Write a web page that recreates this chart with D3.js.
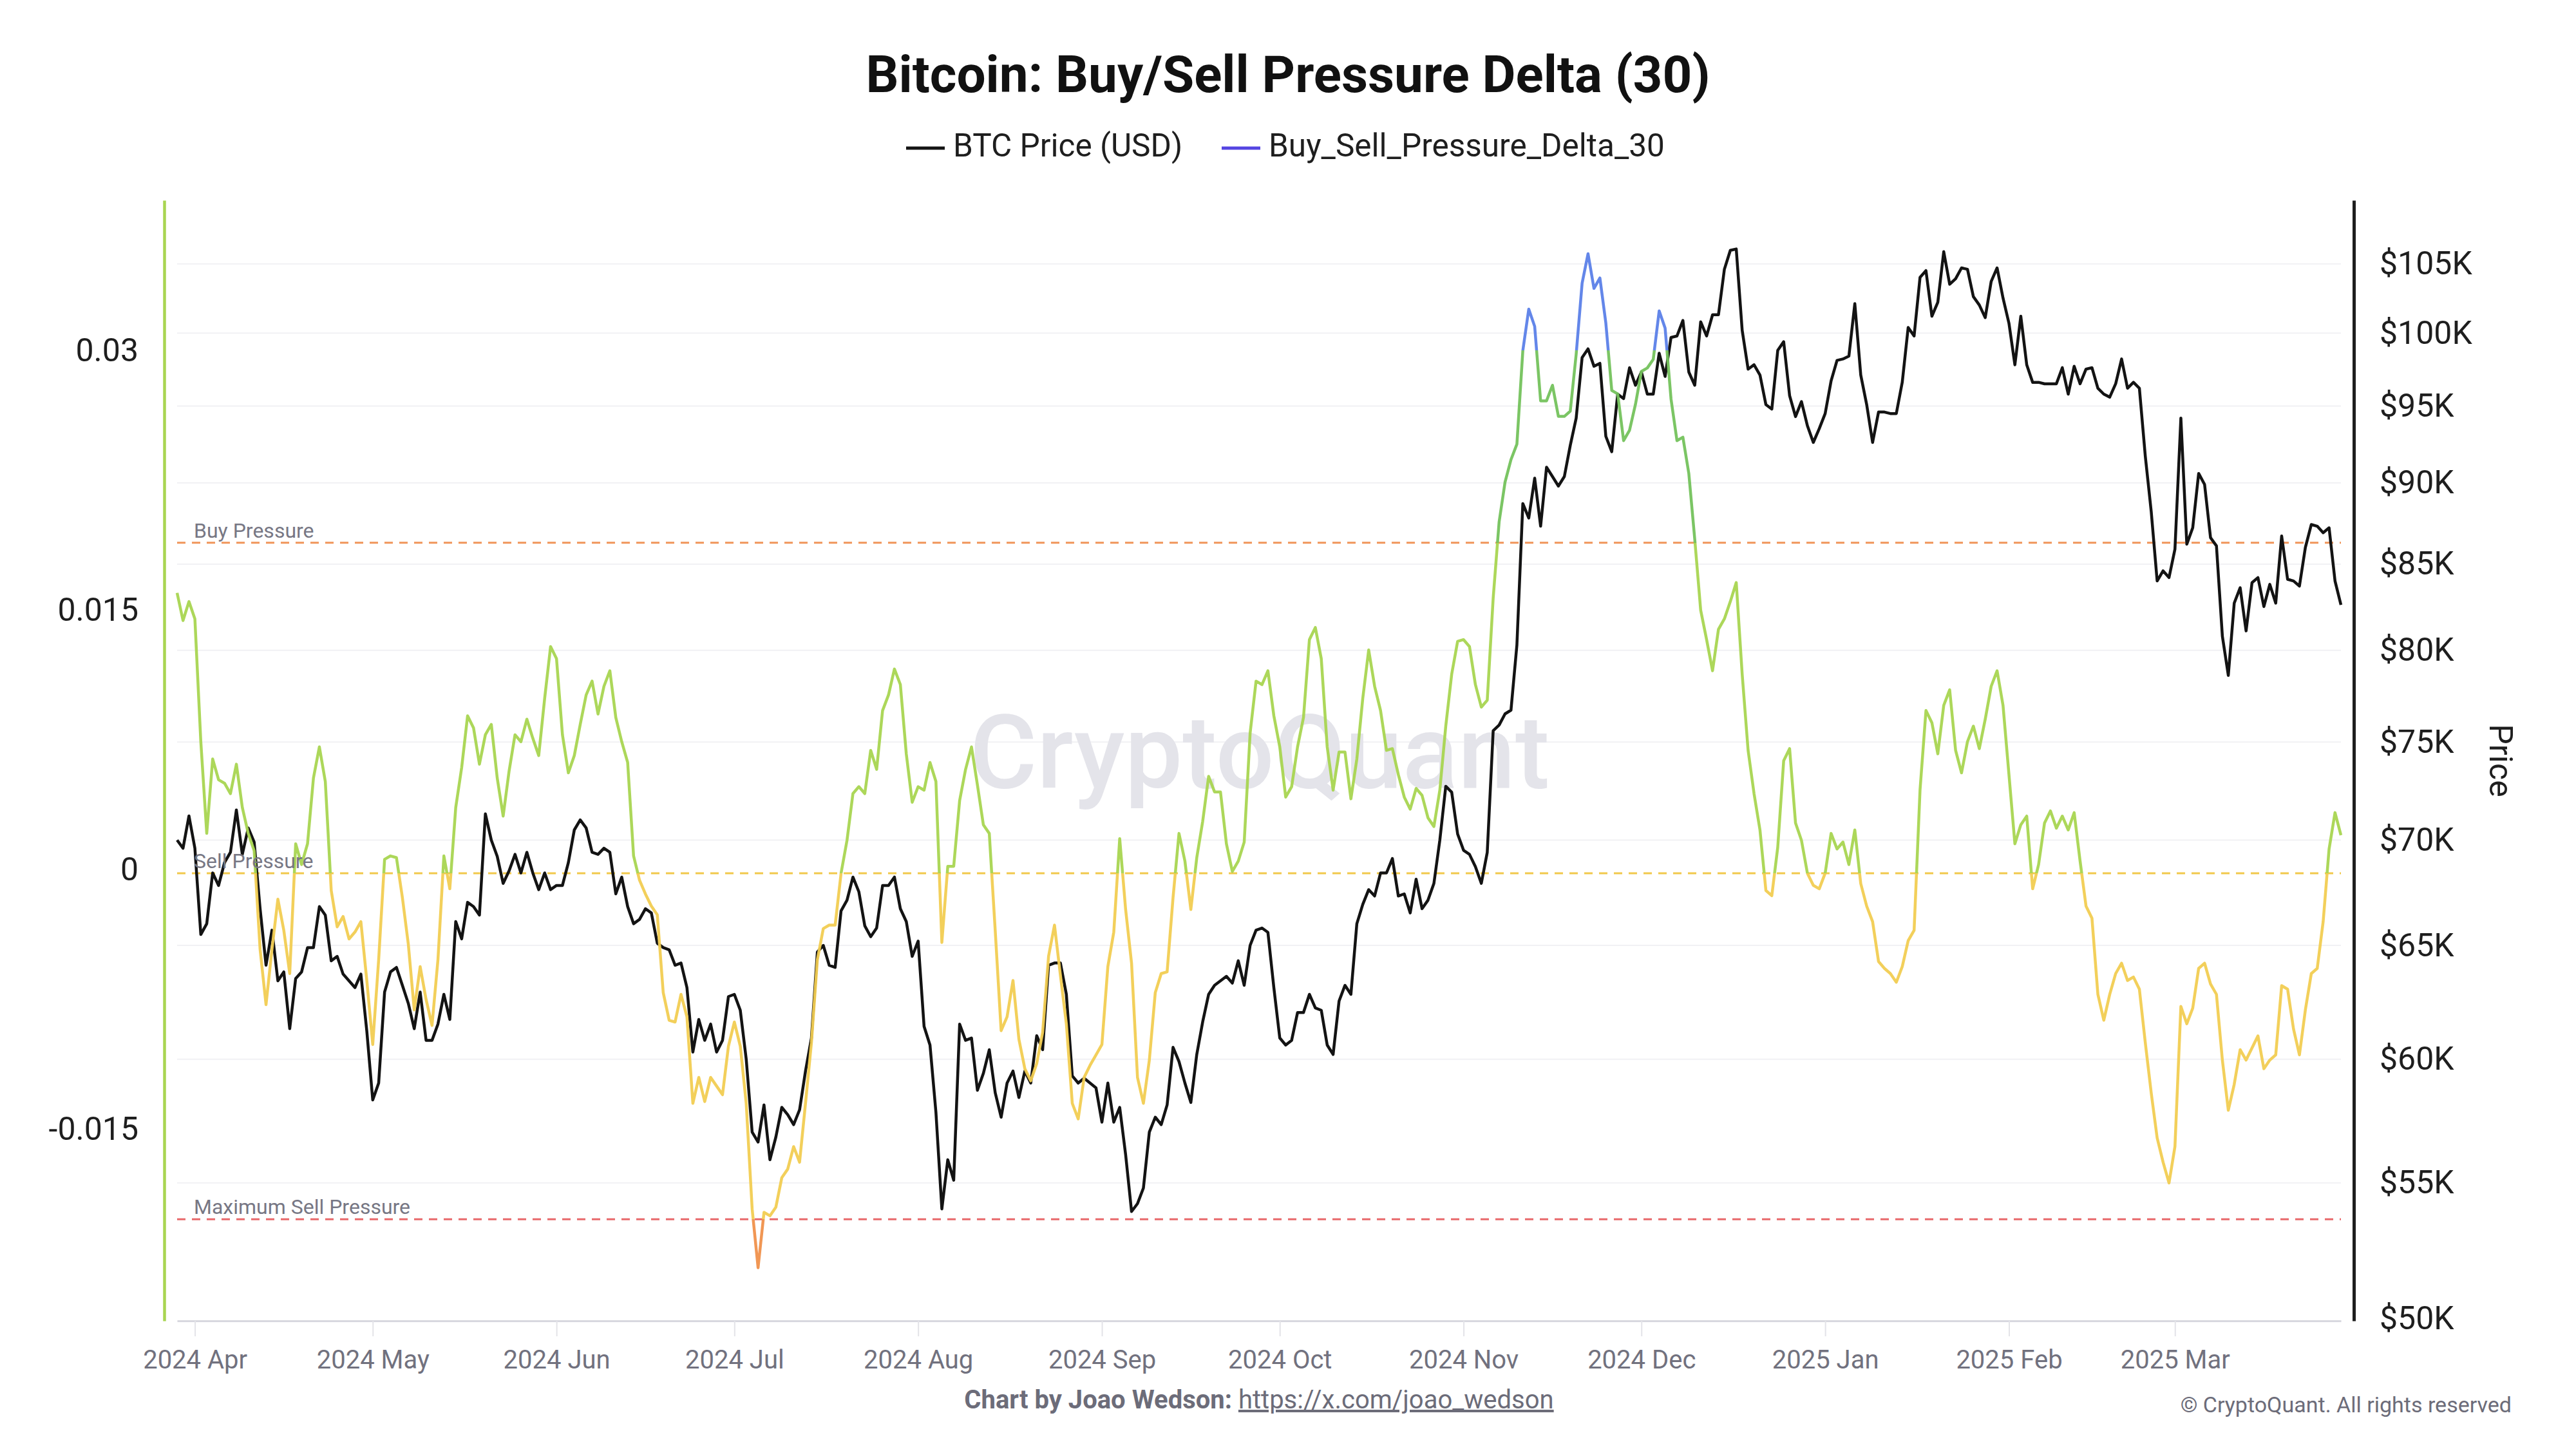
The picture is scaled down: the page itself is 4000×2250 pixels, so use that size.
<!DOCTYPE html>
<html>
<head>
<meta charset="utf-8">
<title>Bitcoin: Buy/Sell Pressure Delta (30)</title>
<script src="https://cdn.jsdelivr.net/npm/d3@7"></script>
<style>
  html, body { margin: 0; padding: 0; background: #fff; }
  svg { display: block; font-family: Roboto, 'Noto Sans', sans-serif; }
</style>
</head>
<body>
<div id="chart"></div>
<script>
// ------------------------------------------------------------------
// Data (daily, first value is 2024-03-29)
const startDate = '2024-03-29';

// BTC price, thousand USD
const btcPriceK = [
  70.0, 69.6, 71.2, 69.6, 65.5, 66.0, 68.4, 67.8, 68.9, 69.4,
  71.5, 69.3, 70.6, 69.9, 66.7, 64.1, 65.7, 63.4, 63.8, 61.3,
  63.5, 63.8, 64.9, 64.9, 66.8, 66.4, 64.3, 64.5, 63.7, 63.4,
  63.1, 63.7, 61.2, 58.3, 59.0, 62.9, 63.8, 64.0, 63.2, 62.4,
  61.3, 62.9, 60.8, 60.8, 61.5, 62.8, 61.7, 66.1, 65.3, 67.0,
  66.8, 66.4, 71.3, 70.0, 69.2, 67.9, 68.5, 69.3, 68.4, 69.4,
  68.4, 67.6, 68.4, 67.6, 67.8, 67.8, 68.9, 70.5, 71.0, 70.6,
  69.4, 69.3, 69.6, 69.4, 67.4, 68.2, 66.8, 66.0, 66.2, 66.7,
  66.5, 65.1, 64.9, 64.8, 64.1, 64.2, 63.1, 60.3, 61.7, 60.8,
  61.5, 60.3, 60.8, 62.7, 62.8, 62.1, 60.0, 57.0, 56.6, 58.1,
  55.9, 56.8, 58.0, 57.7, 57.3, 57.9, 59.5, 60.9, 64.7, 65.0,
  64.1, 64.0, 66.6, 67.1, 68.2, 67.5, 65.9, 65.4, 65.8, 67.8,
  67.8, 68.2, 66.7, 66.1, 64.5, 65.2, 61.4, 60.6, 57.8, 54.0,
  55.9, 55.1, 61.5, 60.8, 60.9, 58.7, 59.4, 60.4, 58.6, 57.6,
  59.0, 59.5, 58.4, 59.5, 59.0, 61.0, 60.4, 64.1, 64.2, 64.2,
  62.8, 59.3, 59.0, 59.2, 59.0, 58.8, 57.4, 59.0, 57.4, 58.0,
  56.1, 53.9, 54.2, 54.8, 57.0, 57.6, 57.3, 58.1, 60.5, 59.9,
  59.0, 58.2, 60.2, 61.6, 62.8, 63.2, 63.4, 63.6, 63.3, 64.3,
  63.2, 65.0, 65.7, 65.8, 65.6, 63.1, 60.9, 60.6, 60.8, 62.0,
  62.0, 62.8, 62.2, 62.1, 60.6, 60.2, 62.5, 63.2, 62.8, 66.0,
  66.9, 67.6, 67.3, 68.4, 68.4, 69.1, 67.3, 67.4, 66.5, 68.1,
  66.7, 67.1, 67.9, 70.0, 72.7, 72.4, 70.3, 69.5, 69.3, 68.7,
  67.9, 69.4, 75.6, 75.9, 76.5, 76.7, 80.3, 88.7, 87.8, 90.3,
  87.3, 91.0, 90.4, 89.8, 90.4, 92.4, 94.2, 98.3, 98.9, 97.7,
  97.9, 93.0, 92.0, 95.8, 95.5, 97.6, 96.4, 97.3, 95.8, 95.8,
  98.6, 97.0, 99.7, 99.8, 100.9, 97.3, 96.4, 100.8, 99.8, 101.3,
  101.3, 104.6, 106.0, 106.1, 100.2, 97.5, 97.8, 97.1, 95.1, 94.8,
  98.8, 99.4, 95.7, 94.3, 95.3, 93.7, 92.6, 93.5, 94.5, 96.7,
  98.1, 98.2, 98.4, 102.1, 97.1, 95.1, 92.6, 94.6, 94.6, 94.5,
  94.5, 96.6, 100.4, 99.8, 104.0, 104.5, 101.2, 102.2, 105.9, 103.5,
  103.9, 104.7, 104.6, 102.6, 102.0, 101.1, 103.7, 104.7, 102.5, 100.7,
  97.8, 101.2, 97.8, 96.6, 96.6, 96.5, 96.5, 96.5, 97.6, 95.8,
  97.7, 96.5, 97.5, 97.6, 96.2, 95.8, 95.6, 96.5, 98.2, 96.2,
  96.6, 96.2, 91.7, 88.2, 84.0, 84.6, 84.2, 85.9, 94.2, 86.2,
  87.2, 90.6, 89.9, 86.6, 86.1, 80.8, 78.6, 82.7, 83.6, 81.1,
  83.9, 84.2, 82.5, 83.8, 82.7, 86.7, 84.1, 84.0, 83.7, 86.0,
  87.4, 87.3, 86.9, 87.2, 84.0, 82.6,
];

// Buy_Sell_Pressure_Delta_30
const pressureDelta = [
  0.0160, 0.0144, 0.0155, 0.0145, 0.0074, 0.0021, 0.0064, 0.0052, 0.0050, 0.0044,
  0.0061, 0.0036, 0.0021, 0.0011, -0.0046, -0.0078, -0.0046, -0.0017, -0.0035, -0.0060,
  0.0015, 0.0003, 0.0015, 0.0053, 0.0071, 0.0051, -0.0012, -0.0033, -0.0027, -0.0040,
  -0.0036, -0.0030, -0.0064, -0.0101, -0.0052, 0.0006, 0.0008, 0.0007, -0.0016, -0.0043,
  -0.0081, -0.0056, -0.0075, -0.0090, -0.0052, 0.0008, -0.0011, 0.0036, 0.0059, 0.0089,
  0.0082, 0.0061, 0.0078, 0.0084, 0.0053, 0.0031, 0.0057, 0.0078, 0.0074, 0.0087,
  0.0076, 0.0066, 0.0099, 0.0129, 0.0122, 0.0078, 0.0056, 0.0066, 0.0084, 0.0101,
  0.0109, 0.0090, 0.0106, 0.0115, 0.0088, 0.0074, 0.0062, 0.0008, -0.0006, -0.0014,
  -0.0021, -0.0026, -0.0071, -0.0087, -0.0088, -0.0072, -0.0085, -0.0135, -0.0120, -0.0134,
  -0.0120, -0.0125, -0.0130, -0.0102, -0.0088, -0.0102, -0.0135, -0.0196, -0.0230, -0.0198,
  -0.0200, -0.0195, -0.0178, -0.0173, -0.0160, -0.0169, -0.0135, -0.0100, -0.0052, -0.0034,
  -0.0032, -0.0032, -0.0002, 0.0017, 0.0044, 0.0048, 0.0044, 0.0069, 0.0058, 0.0092,
  0.0101, 0.0116, 0.0107, 0.0067, 0.0039, 0.0048, 0.0046, 0.0062, 0.0051, -0.0042,
  0.0002, 0.0002, 0.0040, 0.0058, 0.0071, 0.0049, 0.0026, 0.0021, -0.0035, -0.0093,
  -0.0085, -0.0064, -0.0098, -0.0115, -0.0122, -0.0112, -0.0094, -0.0050, -0.0032, -0.0061,
  -0.0089, -0.0135, -0.0144, -0.0120, -0.0113, -0.0107, -0.0101, -0.0056, -0.0036, 0.0018,
  -0.0023, -0.0054, -0.0120, -0.0135, -0.0110, -0.0071, -0.0060, -0.0059, -0.0016, 0.0021,
  0.0005, -0.0023, 0.0007, 0.0028, 0.0054, 0.0045, 0.0045, 0.0015, -0.0001, 0.0005,
  0.0016, 0.0079, 0.0109, 0.0107, 0.0115, 0.0089, 0.0071, 0.0042, 0.0048, 0.0071,
  0.0088, 0.0133, 0.0140, 0.0122, 0.0071, 0.0046, 0.0068, 0.0068, 0.0041, 0.0064,
  0.0099, 0.0127, 0.0106, 0.0092, 0.0069, 0.0070, 0.0055, 0.0042, 0.0035, 0.0047,
  0.0043, 0.0030, 0.0025, 0.0046, 0.0083, 0.0113, 0.0132, 0.0133, 0.0129, 0.0107,
  0.0094, 0.0098, 0.0157, 0.0201, 0.0224, 0.0237, 0.0246, 0.0300, 0.0324, 0.0314,
  0.0271, 0.0271, 0.0280, 0.0262, 0.0262, 0.0265, 0.0298, 0.0339, 0.0356, 0.0336,
  0.0342, 0.0316, 0.0277, 0.0275, 0.0248, 0.0254, 0.0269, 0.0288, 0.0290, 0.0295,
  0.0323, 0.0313, 0.0272, 0.0248, 0.0250, 0.0229, 0.0191, 0.0150, 0.0133, 0.0115,
  0.0139, 0.0145, 0.0155, 0.0166, 0.0113, 0.0069, 0.0044, 0.0023, -0.0012, -0.0015,
  0.0013, 0.0063, 0.0070, 0.0027, 0.0017, -0.0002, -0.0009, -0.0011, -0.0002, 0.0021,
  0.0012, 0.0016, 0.0003, 0.0023, -0.0008, -0.0021, -0.0030, -0.0053, -0.0057, -0.0060,
  -0.0065, -0.0056, -0.0041, -0.0035, 0.0046, 0.0092, 0.0085, 0.0067, 0.0095, 0.0104,
  0.0069, 0.0056, 0.0074, 0.0083, 0.0070, 0.0087, 0.0106, 0.0115, 0.0095, 0.0055,
  0.0015, 0.0026, 0.0031, -0.0011, 0.0003, 0.0027, 0.0034, 0.0024, 0.0031, 0.0023,
  0.0033, 0.0005, -0.0021, -0.0028, -0.0072, -0.0087, -0.0072, -0.0060, -0.0054, -0.0064,
  -0.0062, -0.0069, -0.0100, -0.0129, -0.0155, -0.0169, -0.0181, -0.0160, -0.0079, -0.0089,
  -0.0080, -0.0057, -0.0054, -0.0066, -0.0072, -0.0110, -0.0139, -0.0124, -0.0104, -0.0110,
  -0.0103, -0.0096, -0.0115, -0.0110, -0.0107, -0.0067, -0.0069, -0.0092, -0.0107, -0.0081,
  -0.0060, -0.0057, -0.0030, 0.0012, 0.0033, 0.0020,
];

// threshold levels
const levelNames = ['Buy Pressure', 'Sell Pressure', 'Maximum Sell Pressure'];
const levelValues = [0.0189, -0.0002, -0.0202];
const strongBuyLevel = 0.03;

// axis ticks
const deltaTicks = [-0.015, 0, 0.015, 0.03];
const deltaTickLabels = ['-0.015', '0', '0.015', '0.03'];
const priceTicks = [50000, 55000, 60000, 65000, 70000, 75000, 80000, 85000, 90000, 95000, 100000, 105000];
const monthTicks = ['2024-04-01', '2024-05-01', '2024-06-01', '2024-07-01', '2024-08-01', '2024-09-01',
  '2024-10-01', '2024-11-01', '2024-12-01', '2025-01-01', '2025-02-01', '2025-03-01'];

// ------------------------------------------------------------------
// Chart

function drawChart() {
  const width = 4000;
  const height = 2250;
  const plot = { left: 275, right: 3635, top: 311, bottom: 2051 };
  const levelColors = ['#f0955a', '#f1c94c', '#e8696b'];

  const parse = d3.utcParse('%Y-%m-%d');
  const start = parse(startDate);
  const dates = btcPriceK.map((_, i) => d3.utcDay.offset(start, i));

  const svg = d3.select('#chart')
    .append('svg')
    .attr('width', width)
    .attr('height', height);

  const x = d3.scaleUtc()
    .domain([start, d3.utcDay.offset(start, 365)])
    .range([plot.left, plot.right]);

  const yL = d3.scaleLinear()
    .domain([-0.02607, 0.03869])
    .range([plot.bottom, plot.top]);

  const yR = d3.scaleLog()
    .domain([49910, 109800])
    .range([plot.bottom, plot.top]);

  // gridlines follow the price axis
  svg.append('g')
    .selectAll('line')
    .data(priceTicks.slice(1))
    .enter()
    .append('line')
    .attr('x1', plot.left)
    .attr('x2', plot.right)
    .attr('y1', d => yR(d))
    .attr('y2', d => yR(d))
    .attr('stroke', '#f1f1f4')
    .attr('stroke-width', 2);

  // watermark
  svg.append('text')
    .attr('x', 1956)
    .attr('y', 1223)
    .attr('text-anchor', 'middle')
    .attr('font-size', 160)
    .attr('font-weight', 500)
    .attr('fill', '#e4e4ea')
    .text('CryptoQuant');

  // x axis
  const xAxis = svg.append('g')
    .attr('transform', 'translate(0,' + plot.bottom + ')')
    .call(d3.axisBottom(x)
      .tickValues(monthTicks.map(parse))
      .tickFormat(d3.utcFormat('%Y %b'))
      .tickSize(24)
      .tickPadding(22)
      .tickSizeOuter(0));
  xAxis.select('.domain').attr('stroke', '#d8d8df').attr('stroke-width', 3);
  xAxis.selectAll('.tick line').attr('stroke', '#e3e3e8').attr('stroke-width', 2);
  xAxis.selectAll('.tick text')
    .attr('font-size', 40)
    .attr('font-family', 'Roboto, sans-serif')
    .attr('fill', '#71717e');

  // left axis (delta)
  const leftAxis = svg.append('g')
    .attr('transform', 'translate(255,0)')
    .call(d3.axisLeft(yL)
      .tickValues(deltaTicks)
      .tickFormat((d, i) => deltaTickLabels[i])
      .tickSize(0)
      .tickPadding(40)
      .tickSizeOuter(0));
  leftAxis.select('.domain').attr('stroke', '#a8d551').attr('stroke-width', 4.5);
  leftAxis.selectAll('.tick text')
    .attr('font-size', 50)
    .attr('font-family', 'Roboto, sans-serif')
    .attr('fill', '#1e1e1e');

  // right axis (price)
  const rightAxis = svg.append('g')
    .attr('transform', 'translate(3655,0)')
    .call(d3.axisRight(yR)
      .tickValues(priceTicks)
      .tickFormat(d => '$' + d / 1000 + 'K')
      .tickSize(0)
      .tickPadding(40)
      .tickSizeOuter(0));
  rightAxis.select('.domain').attr('stroke', '#1e1e1e').attr('stroke-width', 5);
  rightAxis.selectAll('.tick text')
    .attr('font-size', 50)
    .attr('font-family', 'Roboto, sans-serif')
    .attr('fill', '#1e1e1e');

  svg.append('text')
    .attr('transform', 'translate(3866,1181) rotate(90)')
    .attr('text-anchor', 'middle')
    .attr('font-size', 50)
    .attr('fill', '#1e1e1e')
    .text('Price');

  // threshold lines
  svg.append('g')
    .selectAll('line')
    .data(levelValues)
    .enter()
    .append('line')
    .attr('x1', plot.left)
    .attr('x2', plot.right)
    .attr('y1', d => yL(d))
    .attr('y2', d => yL(d))
    .attr('stroke', (d, i) => levelColors[i])
    .attr('stroke-width', 3)
    .attr('stroke-dasharray', '13,10');

  // Add the price line
  svg.append('path')
    .datum(btcPriceK)
    .attr('fill', 'none')
    .attr('stroke', '#131313')
    .attr('stroke-width', 4.5)
    .attr('stroke-linejoin', 'round')
    .attr('d', d3.line()
      .x((d, i) => x(dates[i]))
      .y(d => yR(d * 1000)));

  // delta line, coloured by value zone
  const gTop = plot.top;
  const gBottom = plot.bottom;
  const off = v => (yL(v) - gTop) / (gBottom - gTop);
  const zones = [
    [0, off(strongBuyLevel), '#5b80e8'],
    [off(strongBuyLevel), off(levelValues[0]), '#74c25c'],
    [off(levelValues[0]), off(levelValues[1]), '#a8d551'],
    [off(levelValues[1]), off(levelValues[2]), '#f2cd52'],
    [off(levelValues[2]), 1, '#f0914b'],
  ];
  const grad = svg.append('defs')
    .append('linearGradient')
    .attr('id', 'delta-grad')
    .attr('gradientUnits', 'userSpaceOnUse')
    .attr('x1', 0).attr('x2', 0)
    .attr('y1', gTop).attr('y2', gBottom);
  zones.forEach(z => {
    grad.append('stop').attr('offset', z[0]).attr('stop-color', z[2]);
    grad.append('stop').attr('offset', z[1]).attr('stop-color', z[2]);
  });

  svg.append('path')
    .datum(pressureDelta)
    .attr('fill', 'none')
    .attr('stroke', 'url(#delta-grad)')
    .attr('stroke-width', 4.5)
    .attr('stroke-linejoin', 'round')
    .attr('opacity', 0.95)
    .attr('d', d3.line()
      .x((d, i) => x(dates[i]))
      .y(d => yL(d)));

  // threshold labels
  svg.append('g')
    .selectAll('text')
    .data(levelValues)
    .enter()
    .append('text')
    .attr('x', 301)
    .attr('y', d => yL(d) - 8)
    .attr('font-size', 32)
    .attr('fill', '#777784')
    .text((d, i) => levelNames[i]);

  // title + legend
  svg.append('text')
    .attr('x', 2000)
    .attr('y', 143)
    .attr('text-anchor', 'middle')
    .attr('font-size', 80)
    .attr('font-weight', 700)
    .attr('fill', '#111')
    .text('Bitcoin: Buy/Sell Pressure Delta (30)');

  const legend = [
    { label: 'BTC Price (USD)', color: '#131313', x: 1407 },
    { label: 'Buy_Sell_Pressure_Delta_30', color: '#5445e2', x: 1897 },
  ];
  const lg = svg.append('g').selectAll('g').data(legend).enter().append('g');
  lg.append('line')
    .attr('x1', d => d.x).attr('x2', d => d.x + 60)
    .attr('y1', 230).attr('y2', 230)
    .attr('stroke', d => d.color)
    .attr('stroke-width', 5);
  lg.append('text')
    .attr('x', d => d.x + 73)
    .attr('y', 243)
    .attr('font-size', 49.5)
    .attr('fill', '#1e1e1e')
    .text(d => d.label);

  // footer
  const foot = svg.append('text')
    .attr('x', 1955)
    .attr('y', 2187)
    .attr('text-anchor', 'middle')
    .attr('font-size', 40)
    .attr('fill', '#6c6c79');
  foot.append('tspan').attr('font-weight', 700).text('Chart by Joao Wedson: ');
  foot.append('tspan').attr('text-decoration', 'underline').text('https://x.com/joao_wedson');

  svg.append('text')
    .attr('x', 3900)
    .attr('y', 2193)
    .attr('text-anchor', 'end')
    .attr('font-size', 34)
    .attr('fill', '#6c6c79')
    .text('\u00A9 CryptoQuant. All rights reserved');
}

drawChart();
</script>
</body>
</html>
